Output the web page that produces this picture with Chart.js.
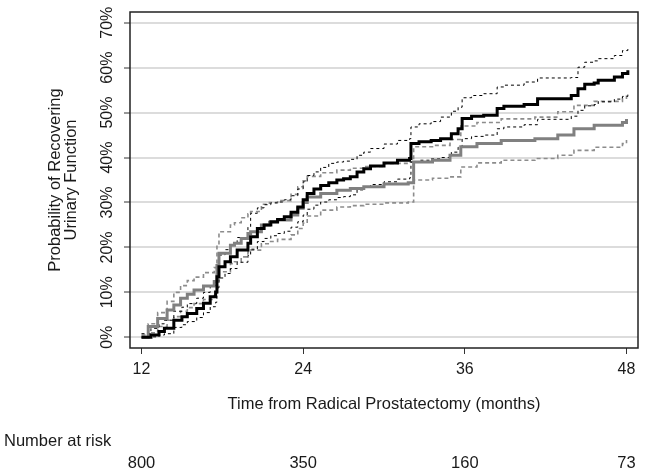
<!DOCTYPE html>
<html>
<head>
<meta charset="utf-8">
<script src="https://cdn.jsdelivr.net/npm/chart.js@4"></script>
<style>
  body { margin: 0; background: #fff; }
</style>
</head>
<body>
<canvas id="chart" width="645" height="475"></canvas>
<script>
// months after surgery, step points (black group)
const blackMonths = [12.0, 12.7, 13.3, 13.7, 14.4, 15.0, 15.4, 16.1, 16.6, 17.1,
    17.5, 17.6, 17.75, 18.2, 18.6, 19.1, 19.9, 20.1, 20.6, 21.1,
    21.6, 22.1, 22.6, 23.1, 23.6, 24.0, 24.3, 24.8, 25.3, 25.9,
    26.5, 27.0, 27.5, 28.0, 28.5, 29.0, 30.0, 31.0, 31.9, 32.0,
    32.6, 33.5, 34.2, 35.0, 35.5, 35.8, 36.5, 37.4, 38.4, 38.9,
    40.4, 41.4, 43.9, 44.4, 44.9, 45.6, 45.9, 47.1, 47.7, 48.1];
const blackEstimate = [0, 0.5, 1.3, 2.0, 3.8, 4.6, 5.3, 6.4, 7.6, 9.0,
    10.1, 13.5, 15.7, 16.8, 17.9, 19.4, 20.9, 22.4, 24.2, 25.0,
    25.7, 26.2, 26.8, 27.8, 29.0, 30.6, 32.0, 33.0, 33.8, 34.4,
    35.0, 35.3, 35.7, 36.8, 37.5, 38.1, 38.8, 39.4, 39.8, 43.1,
    43.5, 43.8, 44.2, 45.3, 46.4, 48.7, 49.2, 49.4, 50.9, 51.4,
    51.8, 53.1, 53.8, 55.3, 56.3, 56.6, 57.2, 57.9, 58.7, 59.4];
const blackUpper = [0.8, 2.0, 3.0, 3.8, 5.8, 6.7, 7.5, 8.7, 10.0, 11.5,
    12.6, 16.0, 18.3, 19.5, 20.6, 22.2, 24.6, 27.6, 28.8, 29.5,
    29.9, 30.1, 30.6, 31.5, 33.0, 34.6, 36.0, 36.8, 37.8, 38.7,
    39.0, 39.2, 39.6, 40.5, 41.2, 42.0, 43.0, 43.8, 44.2, 46.8,
    47.5, 48.0, 49.0, 50.3, 51.2, 53.3, 53.8, 54.2, 55.7, 56.1,
    56.8, 57.7, 57.8, 60.1, 61.2, 61.5, 62.0, 62.7, 63.8, 64.6];
const blackLower = [0, 0.1, 0.5, 0.8, 2.2, 2.8, 3.5, 4.4, 5.5, 6.8,
    7.8, 11.0, 13.2, 14.2, 15.3, 16.7, 18.2, 19.6, 21.3, 22.0,
    22.6, 23.1, 23.6, 24.5, 25.7, 27.2, 28.5, 29.4, 30.1, 30.6,
    31.1, 31.3, 31.7, 32.8, 33.4, 34.0, 34.6, 35.2, 35.5, 39.0,
    39.4, 39.7, 40.0, 41.2, 42.3, 44.2, 44.7, 45.0, 46.4, 46.8,
    47.3, 48.5, 49.2, 50.5, 51.5, 51.8, 52.4, 53.0, 53.6, 54.2];

// grey group
const greyMonths = [12.0, 12.5, 13.2, 13.9, 14.4, 14.9, 15.4, 15.9, 16.6, 17.4,
    17.6, 17.75, 18.6, 18.9, 19.4, 19.9, 20.1, 20.9, 21.5, 22.1,
    23.1, 23.6, 24.0, 24.3, 25.3, 26.5, 27.5, 28.5, 30.0, 31.8,
    32.2, 33.6, 34.9, 35.7, 36.9, 38.7, 41.2, 42.9, 44.1, 45.6,
    47.7, 48.0];
const greyEstimate = [0, 2.4, 4.2, 6.1, 7.2, 8.7, 9.6, 10.5, 11.4, 12.4,
    16.0, 18.7, 20.5, 20.9, 22.0, 23.1, 23.5, 25.0, 25.6, 26.1,
    27.2, 28.7, 30.0, 31.2, 32.0, 32.7, 33.1, 33.5, 34.1, 34.4,
    39.0, 39.4, 40.5, 42.4, 43.1, 43.8, 44.2, 45.0, 46.4, 47.2,
    47.8, 48.6];
const greyUpper = [0.5, 3.0, 5.5, 8.0, 10.0, 11.5, 12.6, 13.4, 14.4, 15.5,
    20.5, 23.5, 25.0, 25.5, 26.6, 27.5, 28.0, 29.6, 30.0, 30.4,
    31.8, 33.5, 34.8, 35.8, 36.6, 37.2, 37.6, 38.0, 38.7, 39.0,
    42.4, 42.7, 44.0, 47.0, 47.8, 48.6, 49.0, 50.2, 51.6, 52.5,
    53.2, 53.8];
const greyLower = [0, 1.0, 2.4, 3.8, 4.6, 5.8, 6.6, 7.5, 8.4, 9.3,
    12.3, 14.6, 16.4, 16.8, 17.9, 19.0, 19.4, 20.8, 21.3, 21.8,
    22.8, 24.2, 25.4, 27.0, 28.3, 29.0, 29.3, 29.6, 29.9, 30.1,
    35.0, 35.4, 35.7, 37.9, 38.8, 39.4, 39.8, 40.5, 41.6, 42.3,
    43.1, 43.9];

const xTicks = [12, 24, 36, 48];
const yTicks = [0, 10, 20, 30, 40, 50, 60, 70];
const riskMonths = [12, 24, 36, 48];
const riskCounts = [800, 350, 160, 73];

const FONT = '"Liberation Sans", Arial, sans-serif';
const TEXT = '#1a1a1a';

function pts(xs, ys) {
    return xs.map((x, i) => ({ x: x, y: ys[i] }));
}

function line(data, color, width, dash) {
    return {
        data: data,
        borderColor: color,
        borderWidth: width,
        borderDash: dash,
        stepped: true,
        pointRadius: 0,
        fill: false
    };
}

const frameAndRisk = {
    id: 'frameAndRisk',
    afterDraw(chart) {
        const { ctx, chartArea: a, scales: { x } } = chart;
        ctx.save();
        ctx.strokeStyle = '#222';
        ctx.lineWidth = 1.5;
        ctx.strokeRect(a.left, a.top, a.right - a.left, a.bottom - a.top);

        ctx.font = '16.5px ' + FONT;
        ctx.fillStyle = TEXT;
        ctx.textBaseline = 'middle';
        ctx.textAlign = 'left';
        ctx.fillText('Number at risk', 4, 441);
        ctx.textAlign = 'center';
        riskMonths.forEach((m, i) => {
            ctx.fillText(String(riskCounts[i]), x.getPixelForValue(m), 463);
        });
        ctx.restore();
    }
};

new Chart(document.getElementById('chart'), {
    type: 'line',
    data: {
        datasets: [
            line(pts(blackMonths, blackEstimate), '#000', 3, []),
            line(pts(greyMonths, greyEstimate), '#808080', 3, []),
            line(pts(blackMonths, blackUpper), '#000', 1, [3, 3]),
            line(pts(blackMonths, blackLower), '#000', 1, [3, 3]),
            line(pts(greyMonths, greyUpper), '#8c8c8c', 1.6, [4, 3]),
            line(pts(greyMonths, greyLower), '#8c8c8c', 1.6, [4, 3])
        ]
    },
    options: {
        responsive: false,
        animation: false,
        layout: { padding: { top: 12, right: 7, bottom: 0, left: 0 } },
        plugins: {
            legend: { display: false },
            tooltip: { enabled: false }
        },
        scales: {
            x: {
                type: 'linear',
                min: 11.146,
                max: 48.854,
                afterBuildTicks: s => { s.ticks = xTicks.map(v => ({ value: v })); },
                afterFit: s => { s.height = 127; },
                border: { display: false },
                grid: {
                    drawOnChartArea: false,
                    tickLength: 6,
                    tickColor: '#333',
                    tickWidth: 1
                },
                ticks: {
                    autoSkip: false,
                    maxRotation: 0,
                    padding: 6,
                    color: TEXT,
                    font: { family: FONT, size: 16 }
                },
                title: {
                    display: true,
                    text: 'Time from Radical Prostatectomy (months)',
                    color: TEXT,
                    font: { family: FONT, size: 16.5, lineHeight: 1 },
                    padding: { top: 0, bottom: 62.75 }
                }
            },
            y: {
                min: -2.38,
                max: 72.38,
                afterBuildTicks: s => { s.ticks = yTicks.map(v => ({ value: v })); },
                afterFit: s => { s.width = 130; },
                border: { display: false },
                grid: {
                    color: '#dcdcdc',
                    lineWidth: 2,
                    tickLength: 6,
                    tickColor: '#333',
                    tickWidth: 1
                },
                ticks: {
                    autoSkip: false,
                    minRotation: 90,
                    maxRotation: 90,
                    crossAlign: 'center',
                    padding: 0,
                    color: TEXT,
                    font: { family: FONT, size: 16 },
                    callback: v => v + '%'
                },
                title: {
                    display: true,
                    text: ['Probability of Recovering', 'Urinary Function'],
                    color: TEXT,
                    font: { family: FONT, size: 16.5, lineHeight: 1 },
                    padding: { top: 46.75, bottom: 0 }
                }
            }
        }
    },
    plugins: [frameAndRisk]
});
</script>
</body>
</html>
